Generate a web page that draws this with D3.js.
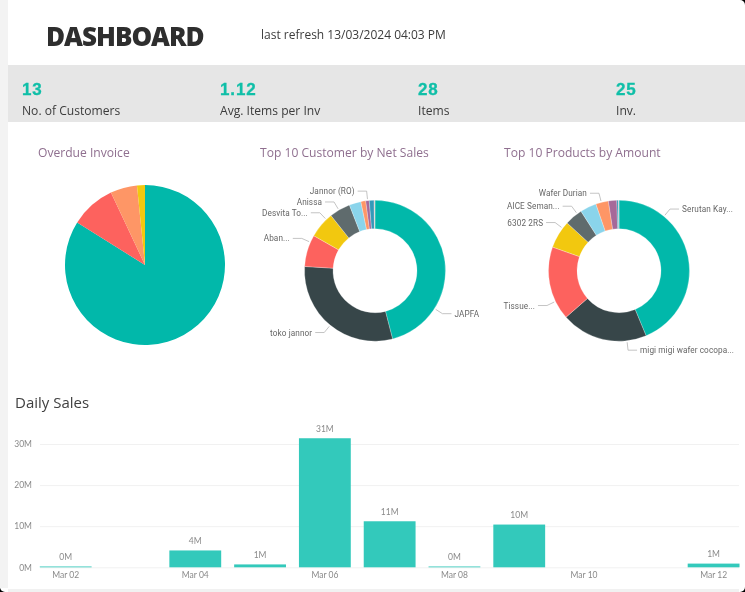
<!DOCTYPE html>
<html lang="en">
  <head>
    <meta http-equiv="Content-Type" content="text/html; charset=utf-8" />
    <title>Dashboard</title>
    <script src="https://cdnjs.cloudflare.com/ajax/libs/d3/7.8.5/d3.min.js"></script>
    <style>
      html, body { margin: 0; padding: 0; background: #000; overflow: hidden; }
      svg { display: block; filter: blur(0.35px); }
      text { font-family: "Open Sans", sans-serif; }
      .kpi-value { font-family: "Liberation Sans", sans-serif; font-weight: 700; font-size: 17px; letter-spacing: 0.9px; fill: #10bfa8; stroke: #10bfa8; stroke-width: 0.3; }
      .kpi-label { font-size: 12.1px; fill: #3c3c3c; }
      .chart-title { font-size: 12.1px; fill: #8f6f8f; }
      .slice-label { font-family: Roboto, sans-serif; font-size: 8.2px; fill: #666; letter-spacing: 0.1px; }
      .leader { fill: none; stroke: #b5b5b5; stroke-width: 0.8; }
      .tick text, .bar-label { font-family: Lato, sans-serif; font-size: 8.5px; fill: #8a8a8a; }
    </style>
  </head>
  <body>
    <script>
      // header numbers
      var kpiValues = ["13", "1.12", "28", "25"];
      var kpiLabels = ["No. of Customers", "Avg. Items per Inv", "Items", "Inv."];

      // overdue invoice pie
      var overdueValues = [83.9, 9.1, 5.4, 1.6];
      var overdueColors = ["#01b8aa", "#fd625e", "#fe9666", "#f2c80f"];

      // donut slices (percent)
      var customerValues = [45.9, 29.9, 7.3, 6.0, 4.8, 2.7, 1.1, 0.8, 1.1, 0.2];
      var productValues = [43.7, 19.8, 16.9, 6.4, 4.1, 3.75, 2.9, 1.9, 0.4, 0.1];
      var palette = ["#01b8aa", "#374649", "#fd625e", "#f2c80f", "#5f6b6d",
                     "#8ad4eb", "#fe9666", "#a66999", "#3599b8", "#dfbfbf"];

      // labels that power bi kept, with the angle (deg) their leader leaves at
      var customerLabels = ["JAPFA", "toko jannor", "Aban...", "Desvita To...", "Anissa", "Jannor (RO)"];
      var customerLabelAngles = [122.5, 219.4, 293.8, 316.4, 329.2, 354];
      var productLabels = ["Serutan Kay...", "migi migi wafer cocopa...", "Tissue...", "6302 2RS", "AICE Seman...", "Wafer Durian"];
      var productLabelAngles = [39.6, 173.5, 244.2, 307, 323.7, 345.5];

      // daily sales, in millions. null = no sales that day
      var days = ["Mar 02", "Mar 03", "Mar 04", "Mar 05", "Mar 06", "Mar 07", "Mar 08", "Mar 09", "Mar 10", "Mar 11", "Mar 12"];
      var sales = [0.2, null, 4.1, 0.7, 31.4, 11.2, 0.2, 10.4, null, null, 0.9];
      var salesTicks = [0, 10, 20, 30];
      var dayTicks = ["Mar 02", "Mar 04", "Mar 06", "Mar 08", "Mar 10", "Mar 12"];

      var width = 745, height = 592;
      var svg = d3.select("body").append("svg").attr("width", width).attr("height", height);

      // frame
      svg.append("rect").attr("width", width).attr("height", height).attr("rx", 5).attr("fill", "#fff");
      svg.append("rect").attr("x", 0).attr("y", 0).attr("width", 8).attr("height", height - 4).attr("fill", "#f3f3f3");
      svg.append("rect").attr("x", 8).attr("y", 589).attr("width", width - 14).attr("height", 3).attr("fill", "#f1f1f1");
      svg.append("rect").attr("x", 8).attr("y", 65).attr("width", width - 8).attr("height", 57).attr("fill", "#e6e6e6");

      svg.append("text").attr("x", 46).attr("y", 46)
        .style("font-size", "26px").style("font-weight", 800).style("letter-spacing", "-1px")
        .attr("fill", "#2e2e2e").text("DASHBOARD");
      svg.append("text").attr("x", 261).attr("y", 38.5)
        .style("font-size", "12px").attr("fill", "#3c3c3c").text("last refresh 13/03/2024 04:03 PM");

      var kpiX = d3.scalePoint().domain(d3.range(4)).range([22, 616]);
      kpiValues.forEach(function(v, i) {
        svg.append("text").attr("class", "kpi-value").attr("x", kpiX(i)).attr("y", 95).text(v);
        svg.append("text").attr("class", "kpi-label").attr("x", kpiX(i)).attr("y", 115).text(kpiLabels[i]);
      });

      function title(x, s) {
        svg.append("text").attr("class", "chart-title").attr("x", x).attr("y", 157).text(s);
      }
      title(38, "Overdue Invoice");
      title(260, "Top 10 Customer by Net Sales");
      title(504, "Top 10 Products by Amount");

      var pie = d3.pie().sort(null);

      // pie
      var g0 = svg.append("g").attr("transform", "translate(145,265)");
      g0.selectAll("path")
        .data(pie(overdueValues))
        .enter()
        .append("path")
        .attr("d", d3.arc().innerRadius(0).outerRadius(80))
        .attr("fill", function(d, i) { return overdueColors[i]; });

      // donuts
      function donut(cx, cy, values, labels, angles) {
        var outer = 70.5, inner = 42;
        var g = svg.append("g").attr("transform", "translate(" + cx + "," + cy + ")");
        g.selectAll("path.slice")
          .data(pie(values))
          .enter()
          .append("path")
          .attr("class", "slice")
          .attr("d", d3.arc().innerRadius(inner).outerRadius(outer))
          .attr("fill", function(d, i) { return palette[i]; })
          .attr("stroke", "#fff")
          .attr("stroke-width", 0.25);
        labels.forEach(function(s, i) {
          var a = angles[i] * Math.PI / 180;
          var p0 = d3.pointRadial(a, outer + 1.5);
          var p1 = d3.pointRadial(a, 80);
          // labels on the right half read to the right of the elbow
          var dir = angles[i] < 180 ? 1 : -1;
          g.append("path")
            .attr("class", "leader")
            .attr("d", d3.line()([p0, p1, [p1[0] + dir * 9, p1[1]]]));
          g.append("text")
            .attr("class", "slice-label")
            .attr("x", p1[0] + dir * 12)
            .attr("y", p1[1] + 3)
            .attr("text-anchor", dir > 0 ? "start" : "end")
            .text(s);
        });
      }
      donut(375, 270.7, customerValues, customerLabels, customerLabelAngles);
      donut(619, 270.7, productValues, productLabels, productLabelAngles);

      // daily sales
      svg.append("text").attr("x", 15).attr("y", 408)
        .style("font-size", "15px").attr("fill", "#404040").text("Daily Sales");

      var x = d3.scaleBand().domain(days).range([33.3, 746]).paddingInner(0.2).paddingOuter(0.1);
      var y = d3.scaleLinear().domain([0, 30]).range([567.3, 444]);
      var bars = days.map(function(d, i) { return { day: d, v: sales[i] }; })
        .filter(function(d) { return d.v !== null; });

      var yAxis = d3.axisLeft(y)
        .tickValues(salesTicks)
        .tickSize(0)
        .tickPadding(8)
        .tickFormat(function(d) { return d + "M"; });
      var yG = svg.append("g").attr("transform", "translate(40,0)").call(yAxis);
      yG.select(".domain").remove();
      yG.selectAll(".tick line").attr("x2", 699).attr("stroke", "#f1f1f1").attr("stroke-width", 1);

      svg.selectAll("rect.bar")
        .data(bars)
        .enter()
        .append("rect")
        .attr("class", "bar")
        .attr("x", function(d) { return x(d.day); })
        .attr("y", function(d) { return y(d.v); })
        .attr("width", x.bandwidth())
        .attr("height", function(d) { return y(0) - y(d.v); })
        .attr("fill", "#33c9bb");

      svg.selectAll("text.bar-label")
        .data(bars)
        .enter()
        .append("text")
        .attr("class", "bar-label")
        .attr("x", function(d) { return x(d.day) + x.bandwidth() / 2; })
        .attr("y", function(d) { return y(d.v) - 6.5; })
        .attr("text-anchor", "middle")
        .text(function(d) { return Math.round(d.v) + "M"; });

      var xAxis = d3.axisBottom(x).tickValues(dayTicks).tickSize(0).tickPadding(5);
      var xG = svg.append("g").attr("transform", "translate(0,567.3)").call(xAxis);
      xG.select(".domain").remove();
    </script>
  </body>
</html>
